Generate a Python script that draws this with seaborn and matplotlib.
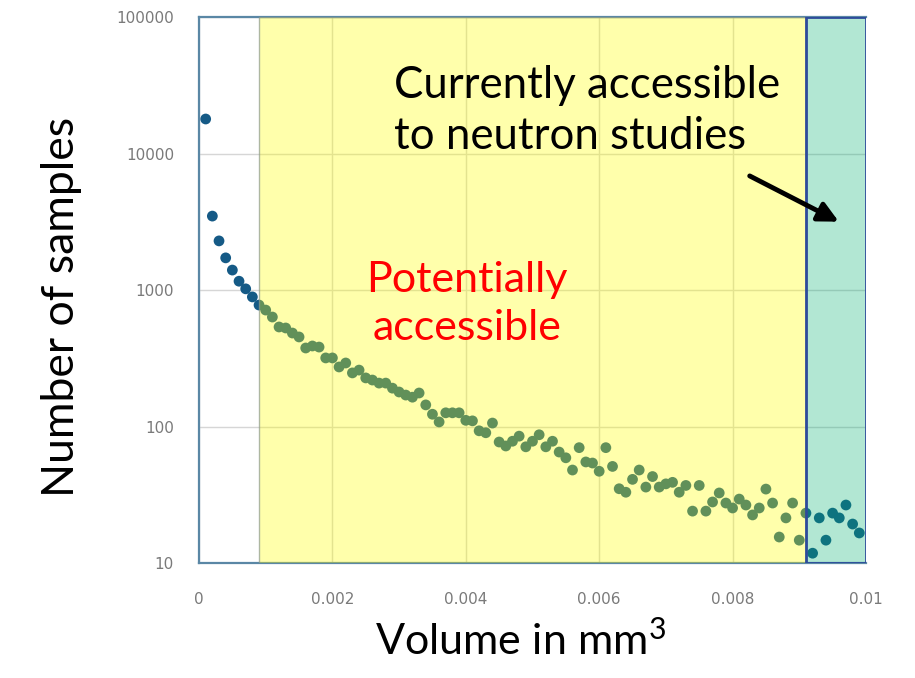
import matplotlib
matplotlib.use('Agg')
import matplotlib.pyplot as plt
import matplotlib.ticker as mticker
import numpy as np
import pandas as pd
import seaborn as sns

# Data (bin width 0.0001 mm^3)
volume = [round(0.0001 * k, 4) for k in range(1, 100)]
samples = [17900, 3480, 2290, 1720, 1400, 1160, 1020, 890, 776, 713,
           634, 536, 527, 484, 453, 376, 389, 382, 318, 318,
           273, 292, 247, 259, 227, 219, 208, 208, 191, 179,
           170, 164, 176, 144, 123, 108, 126, 126, 126, 111,
           110, 93, 90, 106, 77, 72, 78, 85, 71, 78,
           87, 71, 78, 65, 59, 48, 70, 55, 54, 47,
           70, 51, 35, 33, 41, 48, 36, 43, 36, 38,
           39, 33, 37, 24, 37, 24, 28, 32.6, 27.5, 25.3,
           29.4, 26.6, 22.5, 25.3, 34.8, 27.5, 15.5, 21.4, 27.5, 14.7,
           23.2, 11.8, 21.4, 14.7, 23.2, 21.4, 26.6, 19.3, 16.6]

x_ticks = [0, 0.002, 0.004, 0.006, 0.008, 0.01]
x_tick_labels = ['0', '0.002', '0.004', '0.006', '0.008', '0.01']
y_ticks = [10, 100, 1000, 10000, 100000]
y_tick_labels = ['10', '100', '1000', '10000', '100000']

potential_range = (0.0009, 0.0091)
current_range = (0.0091, 0.01)

df = pd.DataFrame({'volume': volume, 'samples': samples})

sns.set_style('white')
plt.rcParams['font.family'] = ['Lato', 'DejaVu Sans']
plt.rcParams['mathtext.fontset'] = 'custom'
plt.rcParams['mathtext.rm'] = 'Lato'

fig = plt.figure(figsize=(9.15, 6.78), dpi=100)
ax = fig.add_axes([0.2175, 0.1696, 0.7289, 0.8053])

sns.scatterplot(data=df, x='volume', y='samples', ax=ax, s=60,
                color='#155a86', edgecolor='none', zorder=2)

ax.set_yscale('log')
ax.set_xlim(0, 0.01)
ax.set_ylim(10, 100000)

ax.grid(True, color='#d6d6d6', lw=1, zorder=0)
ax.set_axisbelow(True)

# shaded regions drawn over the points (translucent), like the original
ax.axvspan(*potential_range, facecolor=(1, 1, 0, 0.33),
           edgecolor=(0.55, 0.6, 0.55, 0.7), lw=1, zorder=3)
ax.axvspan(*current_range, facecolor=(0, 0.69, 0.44, 0.3),
           edgecolor='#2e4b9b', lw=2, zorder=4)

ax.set_xticks(x_ticks)
ax.set_xticklabels(x_tick_labels)
ax.yaxis.set_major_locator(mticker.FixedLocator(y_ticks))
ax.yaxis.set_minor_locator(mticker.NullLocator())
ax.set_yticklabels(y_tick_labels)
ax.tick_params(axis='x', length=0, pad=21, labelsize=11, labelcolor='#7a7a7a')
ax.tick_params(axis='y', length=0, pad=18, labelsize=11, labelcolor='#7a7a7a')
for lab in ax.get_xticklabels() + ax.get_yticklabels():
    lab.set_family('DejaVu Sans')

for side in ['left', 'top', 'bottom']:
    ax.spines[side].set_color('#5a87a5')
    ax.spines[side].set_linewidth(1.6)
ax.spines['right'].set_visible(False)

ax.set_xlabel('Volume in mm$\\mathregular{^3}$', fontsize=31, color='black')
ax.set_ylabel('Number of samples', fontsize=32, color='black')
ax.xaxis.set_label_coords(0.482, -0.105)
ax.yaxis.set_label_coords(-0.175, 0.469)

ax.text(0.00402, 790, 'Potentially\naccessible', color='red', fontsize=31,
        ha='center', va='center', linespacing=1.3, zorder=6)
ax.text(0.00292, 20500, 'Currently accessible\nto neutron studies', color='black',
        fontsize=31.5, ha='left', va='center', linespacing=1.3, zorder=6)
ax.annotate('', xy=(0.00963, 3100), xytext=(0.00822, 7000),
            arrowprops=dict(arrowstyle='-|>', color='black', lw=3.5,
                            mutation_scale=30), zorder=6)

fig.savefig('out.png', dpi=100)
